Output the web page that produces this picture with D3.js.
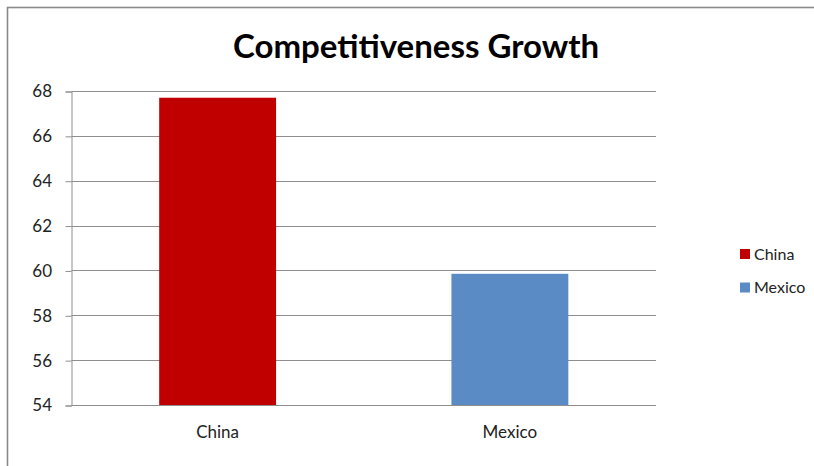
<!DOCTYPE html>
<html>
<head>
<meta charset="utf-8">
<script src="https://cdn.jsdelivr.net/npm/d3@7"></script>
<style>
  html, body { margin: 0; padding: 0; background: #fff; }
  svg { display: block; }
  text { font-family: Lato, "Open Sans", sans-serif; fill: #222; }
</style>
</head>
<body>
<svg id="chart" width="814" height="466"></svg>
<script>
// Chart data
const titleText = "Competitiveness Growth";
const categories = ["China", "Mexico"];
const values = [67.7, 59.85];
const barColors = ["#C00000", "#5B8BC5"];
const yTicks = [54, 56, 58, 60, 62, 64, 66, 68];

const svg = d3.select("#chart");
const W = 814, H = 466;
const plot = { left: 71.5, right: 656, top: 91, bottom: 405 };

// Outer frame (only top and left edges fall inside the window)
svg.append("rect")
  .attr("x", 7.5).attr("y", 7.5)
  .attr("width", W + 20).attr("height", H + 20)
  .attr("fill", "none")
  .attr("stroke", "#8a8a8a")
  .attr("stroke-width", 1.6);

// Title
svg.append("text")
  .attr("x", 416).attr("y", 58)
  .attr("text-anchor", "middle")
  .style("font-size", "33px")
  .style("font-weight", "bold")
  .style("fill", "#000")
  .text(titleText);

const x = d3.scaleBand()
  .domain(categories)
  .range([plot.left, plot.right])
  .paddingInner(0.6)
  .paddingOuter(0.3);

const y = d3.scaleLinear()
  .domain([d3.min(yTicks), d3.max(yTicks)])
  .range([plot.bottom, plot.top]);

// Horizontal gridlines
svg.append("g")
  .selectAll("line")
  .data(yTicks)
  .join("line")
  .attr("x1", plot.left).attr("x2", plot.right)
  .attr("y1", d => Math.round(y(d)) + 0.5)
  .attr("y2", d => Math.round(y(d)) + 0.5)
  .attr("stroke", "#8e8e8e")
  .attr("stroke-width", 1);

// Y axis
const yAxis = svg.append("g")
  .attr("transform", `translate(${plot.left},0.5)`)
  .call(d3.axisLeft(y).tickValues(yTicks).tickSize(6).tickPadding(13.5).tickFormat(d3.format("d")));
yAxis.select(".domain").attr("stroke", "#8e8e8e");
yAxis.selectAll(".tick line").attr("stroke", "#8e8e8e");
yAxis.selectAll(".tick text")
  .style("font-size", "17px")
  .style("fill", "#222")
  .style("font-family", "Lato, 'Open Sans', sans-serif");

// Bars
svg.append("g")
  .selectAll("rect")
  .data(categories)
  .join("rect")
  .attr("x", d => x(d))
  .attr("width", x.bandwidth())
  .attr("y", (d, i) => y(values[i]))
  .attr("height", (d, i) => y(d3.min(yTicks)) - y(values[i]))
  .attr("fill", (d, i) => barColors[i]);

// Category labels
svg.append("g")
  .selectAll("text")
  .data(categories)
  .join("text")
  .attr("x", d => x(d) + x.bandwidth() / 2)
  .attr("y", 438)
  .attr("text-anchor", "middle")
  .style("font-size", "17px")
  .text(d => d);

// Legend
const legend = svg.append("g")
  .selectAll("g")
  .data(categories)
  .join("g")
  .attr("transform", (d, i) => `translate(740,${249 + i * 33.5})`);
legend.append("rect")
  .attr("width", 10).attr("height", 10)
  .attr("fill", (d, i) => barColors[i]);
legend.append("text")
  .attr("x", 14).attr("y", 10.5)
  .style("font-size", "16px")
  .text(d => d);
</script>
</body>
</html>
